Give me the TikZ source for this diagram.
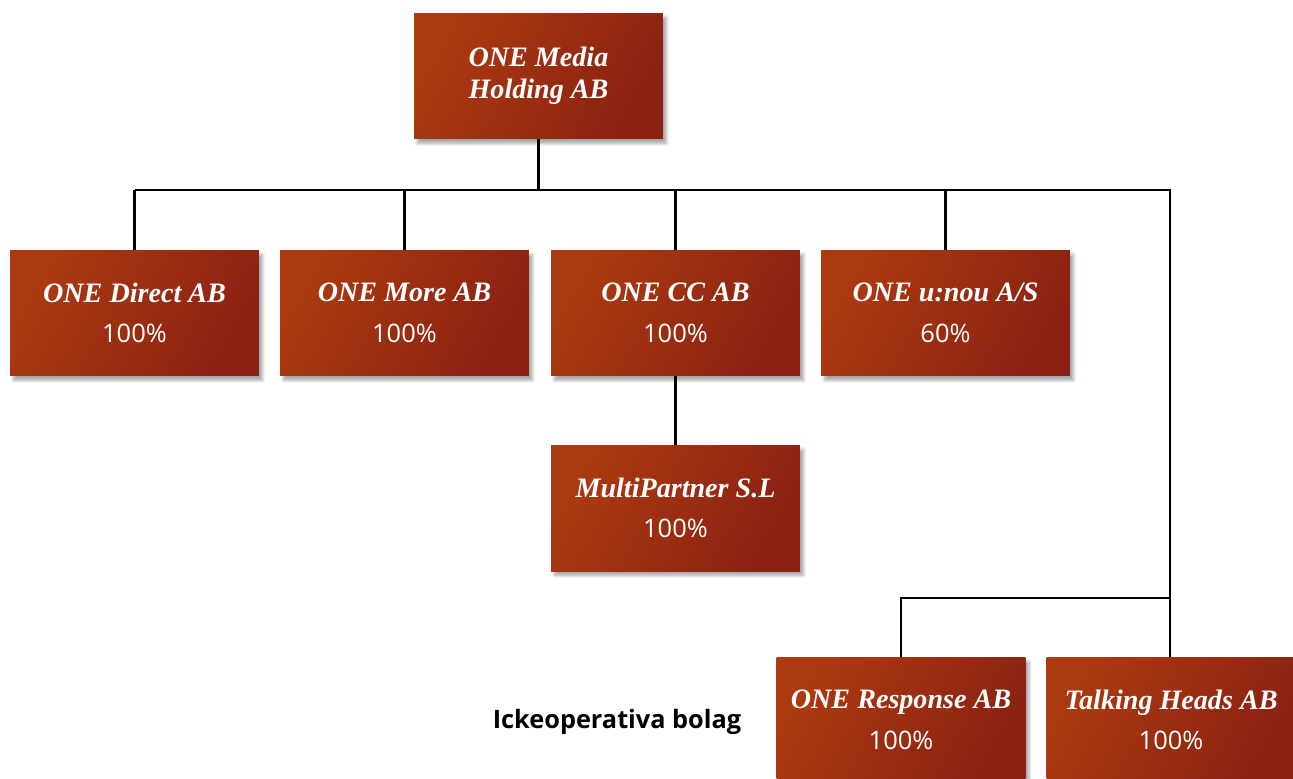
\documentclass[tikz,border=0pt]{standalone}
\usepackage{fontspec}
\newfontfamily\pctfont{Open Sans}
\newfontfamily\namefont{Liberation Serif}
\usetikzlibrary{positioning,shadows.blur}

\definecolor{boxlight}{RGB}{172,58,16}
\definecolor{boxdark}{RGB}{138,33,18}
\newcommand{\namefnt}{\namefont\fontsize{16}{18}\selectfont\bfseries\itshape}
\newcommand{\pctfnt}{\normalfont\pctfont\fontsize{14.5}{18}\selectfont}

\tikzset{
	orgbox/.style={rectangle, minimum width=4.98cm, minimum height=2.52cm,
		left color=boxlight, right color=boxdark, shading angle=60,
		text=white, align=center, inner sep=0pt, font=\namefnt,
		blur shadow={shadow xshift=2pt, shadow yshift=-2.5pt, shadow blur steps=6, shadow opacity=35}},
	conn/.style={line width=1.2pt, black}
}

\begin{document}
\begin{tikzpicture}[x=0.02cm,y=-0.02cm]
		\useasboundingbox (0,0) rectangle (1293,778);
		% top
		\node[orgbox] (media) at (538.5,76) {ONE Media\\Holding AB};
		% first level
		\node[orgbox] (direct) at (134.5,313) {ONE Direct AB\\[5pt]\pctfnt 100\%};
		\node[orgbox] (more) at (404.5,313) {ONE More AB\\[5pt]\pctfnt 100\%};
		\node[orgbox] (cc) at (675.5,313) {ONE CC AB\\[5pt]\pctfnt 100\%};
		\node[orgbox] (unou) at (945.5,313) {ONE u:nou A/S\\[5pt]\pctfnt 60\%};
		\node[orgbox] (multi) at (675.5,508) {MultiPartner S.L\\[5pt]\pctfnt 100\%};
		% dormant companies
		\node[orgbox] (response) at (901,720) {ONE Response AB\\[5pt]\pctfnt 100\%};
		\node[orgbox] (talking) at (1171,720) {Talking Heads AB\\[5pt]\pctfnt 100\%};
		\node (ickeop) at (617,722) {\pctfont\fontsize{14.4}{17}\selectfont\bfseries Ickeoperativa bolag};
		% connectors
		\coordinate (bus) at (538.5,190);
		\coordinate (split) at (1170,598);
		\draw[conn] (media.south) -- (bus);
		\draw[conn] (direct.north |- bus) -- (split |- bus) -- (split);
		\foreach \n in {direct,more,cc,unou}
			\draw[conn] (\n.north) -- (\n.north |- bus);
		\draw[conn] (cc.south) -- (multi.north);
		\draw[conn] (response.north) -- (response.north |- split) -- (split) -- (talking.north -| split);
	\end{tikzpicture}
\end{document}
